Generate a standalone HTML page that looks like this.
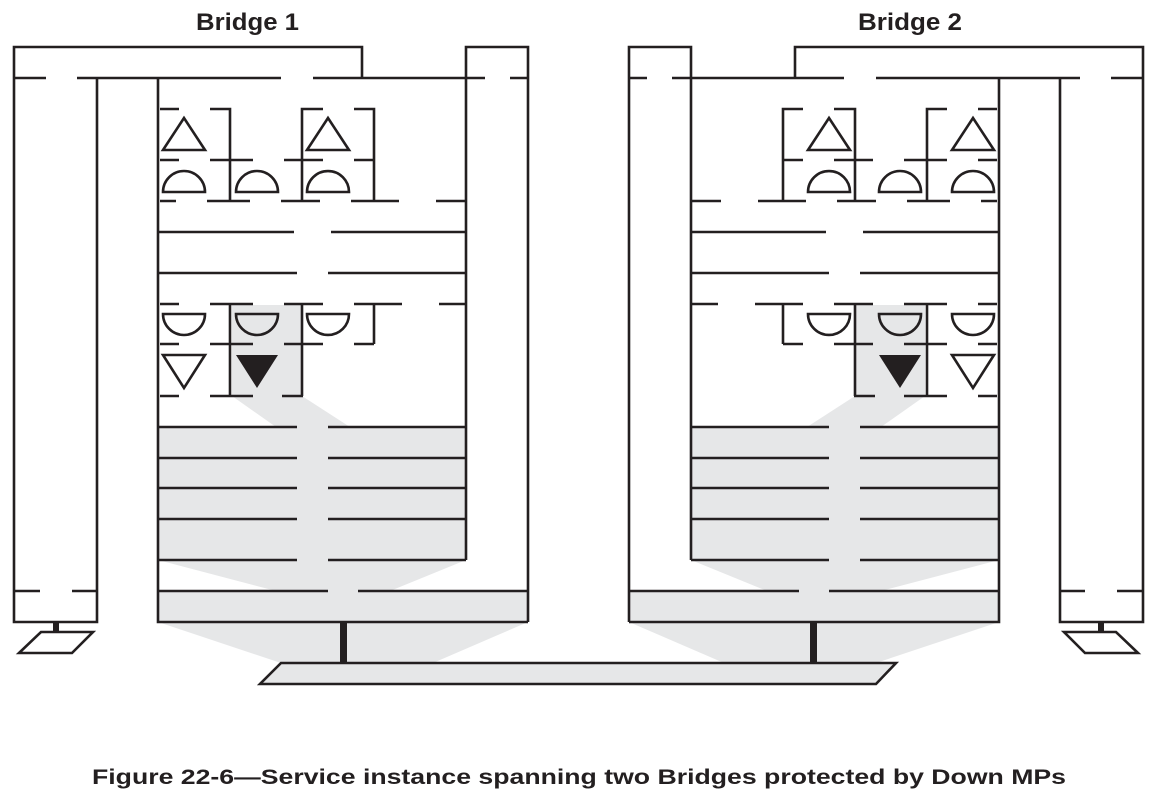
<!DOCTYPE html>
<html><head><meta charset="utf-8"><style>
html,body{margin:0;padding:0;background:#fff;width:1155px;height:801px;overflow:hidden}
svg{display:block}
</style></head><body>
<svg width="1155" height="801" viewBox="0 0 1155 801" xmlns="http://www.w3.org/2000/svg">
<defs>
<g id="br">
  <g fill="#e6e7e8" stroke="none">
    <polygon points="232,305 302,305 302,396 350,427 276,427 232,396"/>
    <rect x="158" y="427" width="308" height="133"/>
    <polygon points="158,560 466,560 390,591 276,591"/>
    <rect x="158" y="591" width="370" height="31"/>
    <polygon points="158,622 528,622 433,663 281,663"/>
  </g>
  <g fill="none" stroke="#231f20" stroke-width="2.6">
    <path d="M14,78 V47 H362 V78"/>
    <path d="M14,78 H46 M77,78 H281 M313,78 H485 M510,78 H528"/>
    <path d="M14,78 V622 H97 V78"/>
    <path d="M14,591 H40 M72,591 H97"/>
    <path d="M158,78 V622 H528"/>
    <path d="M466,560 V47 H528 V622"/>
    <path d="M158,591 H328 M358,591 H528"/>
    <path d="M158,427 H297 M328,427 H466 M158,458 H297 M328,458 H466 M158,488 H297 M328,488 H466 M158,519 H297 M328,519 H466 M158,560 H297 M328,560 H466"/>
    <path d="M158,232 H294 M331,232 H466 M158,273 H297 M328,273 H466"/>
    <path d="M160,109 H179 M210,109 H230 V201 M302,201 V109 H323 M354,109 H374 V201"/>
    <path d="M160,160 H179 M210,160 H253 M284,160 H323 M354,160 H374"/>
    <path d="M160,201 H176 M207,201 H250 M281,201 H320 M351,201 H399 M436,201 H466"/>
    <polygon points="184,118 163,150 205,150"/>
    <polygon points="328,118 307,150 349,150"/>
    <path d="M163,192 A21,21 0 0 1 205,192 Z"/>
    <path d="M236,192 A21,21 0 0 1 278,192 Z"/>
    <path d="M307,192 A21,21 0 0 1 349,192 Z"/>
    <path d="M160,304 H179 M210,304 H253 M284,304 H323 M354,304 H402 M439,304 H466"/>
    <path d="M230,304 V396 M302,304 V396 M374,304 V344"/>
    <path d="M160,344 H179 M210,344 H253 M284,344 H323 M354,344 H374"/>
    <path d="M160,396 H179 M210,396 H253 M282,396 H303"/>
    <path d="M163,314 A21,21 0 0 0 205,314 Z"/>
    <path d="M236,314 A21,21 0 0 0 278,314 Z"/>
    <path d="M307,314 A21,21 0 0 0 349,314 Z"/>
    <polygon points="163,355 205,355 184,388"/>
    <polygon points="41,632 93,632 72,653 19,653"/>
  </g>
  <polygon points="236,355 278,355 257,388" fill="#231f20"/>
  <rect x="53" y="622" width="6" height="10" fill="#231f20"/>
  <rect x="340" y="622" width="7" height="41" fill="#231f20"/>
</g>
</defs>
<use href="#br"/>
<use href="#br" transform="translate(1157,0) scale(-1,1)"/>
<polygon points="281,663 896,663 876,684 260,684" fill="#e6e7e8" stroke="#231f20" stroke-width="2.6"/>
<g font-family="Liberation Sans, Arial, sans-serif" font-weight="bold" fill="#231f20">
  <text x="196" y="30" font-size="24" textLength="103" lengthAdjust="spacingAndGlyphs">Bridge 1</text>
  <text x="858" y="30" font-size="24" textLength="104" lengthAdjust="spacingAndGlyphs">Bridge 2</text>
  <text x="92" y="784" font-size="21" textLength="974" lengthAdjust="spacingAndGlyphs">Figure 22-6—Service instance spanning two Bridges protected by Down MPs</text>
</g>
</svg>
</body></html>
